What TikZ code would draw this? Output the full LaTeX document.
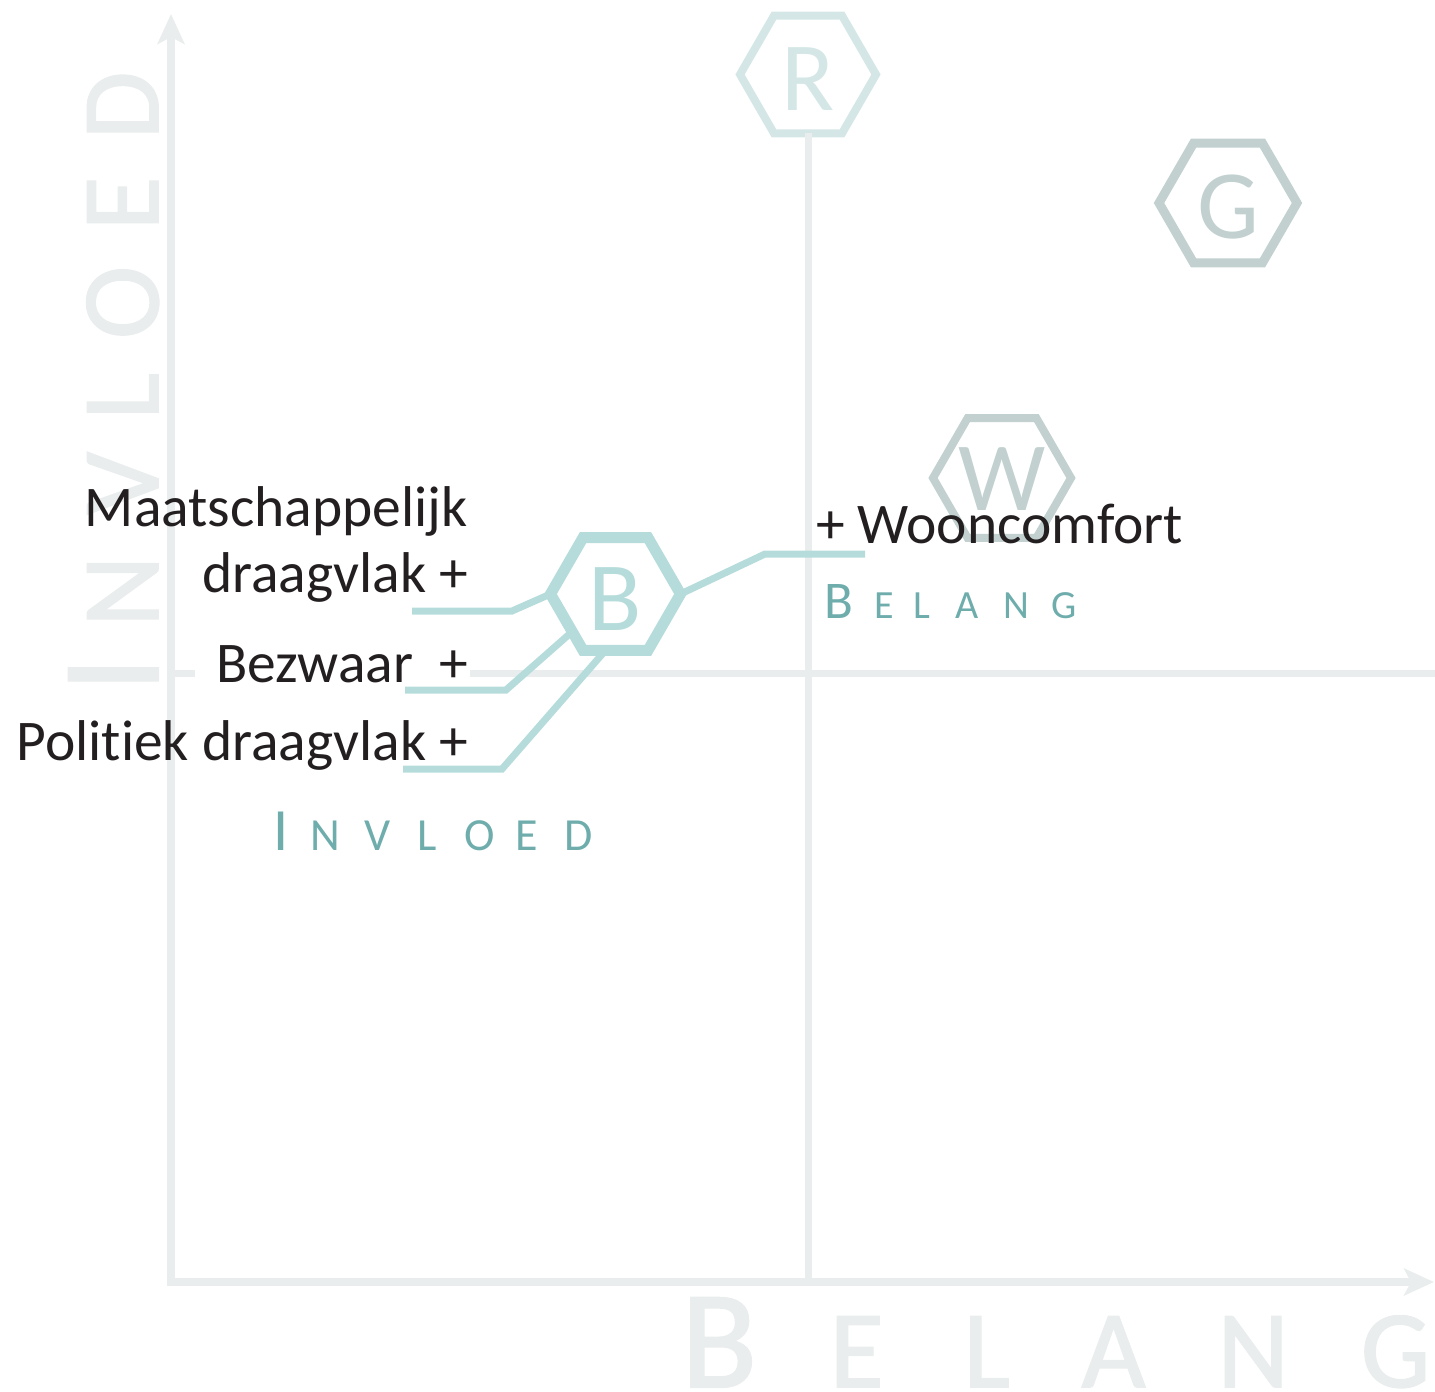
\documentclass[tikz,border=0pt]{standalone}
\usepackage{fontspec}
\setmainfont{Carlito}[Ligatures={NoCommon,NoRare}]
\newfontface\heavyface{Carlito}[FakeBold=1.6]
\usetikzlibrary{arrows.meta,shapes.geometric}
\definecolor{axisgray}{HTML}{E9EDED}
\definecolor{hexR}{HTML}{D4E7E6}
\definecolor{hexB}{HTML}{B5DCDB}
\definecolor{hexG}{HTML}{C2D0D0}
\definecolor{labteal}{HTML}{6FADAD}
\definecolor{ink}{HTML}{231F20}
\newcommand\fs[1]{\fontsize{#1}{#1}\selectfont}
\newcommand\putch[2]{\makebox[0pt][l]{\hspace*{#1pt}\makebox[0pt][c]{#2}}}
\tikzset{
  axisline/.style={draw=axisgray, line width=8pt, line join=miter},
  quadline/.style={draw=axisgray, line width=7pt},
  hexshape/.style={regular polygon, regular polygon sides=6, inner sep=0pt, outer sep=0pt, draw},
  conn/.style={draw=hexB, line width=7pt, line join=miter},
  lbl/.style={text=ink, inner sep=0pt, font=\fs{57.5}},
  hexletter/.style={inner sep=0pt, anchor=base, font=\fs{98}},
  spaced/.style={inner sep=0pt, anchor=base west},
  bigtitle/.style={inner sep=0pt, anchor=base west, text=axisgray, font=\heavyface},
  axtip/.tip={Stealth[length=30pt,width=27pt,inset=7pt]}
}
\begin{document}
\begin{tikzpicture}[x=1pt,y=-1pt]
\useasboundingbox (0,0) rectangle (1435,1392);
% axes
\coordinate (ytip) at (171,14);
\coordinate (O) at (171,1282);
\coordinate (xtip) at (1434,1282);
\draw[axisline, axtip-axtip] (ytip) -- (O) -- (xtip);
% big axis titles
\node[bigtitle, rotate=90] (invBig) at (158,681)
  {\putch{6}{\fs{139}I}\putch{89}{\fs{110}N}\putch{197}{\fs{110}V}\putch{284}{\fs{110}L}\putch{378}{\fs{110}O}\putch{477}{\fs{110}E}\putch{575}{\fs{110}D}};
\node[bigtitle] (belBig) at (0,1387)
  {\putch{718.5}{\fs{139}B}\putch{856}{\fs{110}E}\putch{986}{\fs{110}L}\putch{1113}{\fs{110}A}\putch{1252.5}{\fs{110}N}\putch{1395}{\fs{110}G}};
% hexagons
\node[hexshape, draw=hexR, line width=8pt, minimum size=136pt] (R) at (808,74.5) {};
\node[hexletter, text=hexR] (Rtxt) at (808,110) {R};
\node[hexshape, draw=hexG, line width=9pt, minimum size=138pt] (G) at (1228,203) {};
\node[hexletter, text=hexG] (Gtxt) at (1228,238) {G};
\node[hexshape, draw=hexG, line width=8pt, minimum size=138pt] (W) at (1002,478) {};
\node[hexletter, text=hexG] (Wtxt) at (1002,510) {W};
% quadrant lines
\coordinate (qbot) at (808,1282);
\coordinate (hl1) at (171,673);
\coordinate (hl2) at (195,673);
\coordinate (hl3) at (470,673);
\coordinate (hl4) at (1435,673);
\draw[quadline] (R.south) -- (qbot);
\draw[quadline] (hl1) -- (hl2);
\draw[quadline] (hl3) -- (hl4);
% B hexagon and connectors
\node[hexshape, draw=hexB, line width=11pt, minimum size=130pt] (B) at (615.5,594) {};
\node[hexletter, text=hexB] (Btxt) at (615.5,630) {B};
\coordinate (c1a) at (512,611);
\coordinate (c1b) at (412,611);
\coordinate (c2a) at (506,690);
\coordinate (c2b) at (405,690);
\coordinate (c3a) at (502,769);
\coordinate (c3b) at (403,769);
\coordinate (c4a) at (765,554);
\coordinate (c4b) at (865,554);
\draw[conn] (B.180) -- (c1a) -- (c1b);
\draw[conn] (B.221) -- (c2a) -- (c2b);
\draw[conn] (B.260) -- (c3a) -- (c3b);
\draw[conn] (B.0) -- (c4a) -- (c4b);
% texts
\node[lbl, anchor=base east] (maat) at (468,526) {Maatschappelijk};
\node[lbl, anchor=base east] (draag) at (468,592) {draagvlak +};
\node[lbl, anchor=base east] (bezw) at (468,682) {Bezwaar\ \ +};
\node[lbl, anchor=base east] (pol) at (468,760) {Politiek draagvlak +};
\node[lbl, anchor=base west] (woon) at (816,543) {+ Wooncomfort};
% small axis labels
\node[spaced, text=labteal] (belS) at (0,618)
  {\putch{838.5}{\fs{53}B}\putch{883.5}{\fs{40}E}\putch{921.5}{\fs{40}L}\putch{966}{\fs{40}A}\putch{1015.5}{\fs{40}N}\putch{1063.5}{\fs{40}G}};
\node[spaced, text=labteal] (invS) at (0,850)
  {\putch{280.5}{\fs{60}I}\putch{325}{\fs{46}N}\putch{376.5}{\fs{46}V}\putch{426}{\fs{46}L}\putch{479}{\fs{46}O}\putch{526.5}{\fs{46}E}\putch{578}{\fs{46}D}};
\end{tikzpicture}
\end{document}
